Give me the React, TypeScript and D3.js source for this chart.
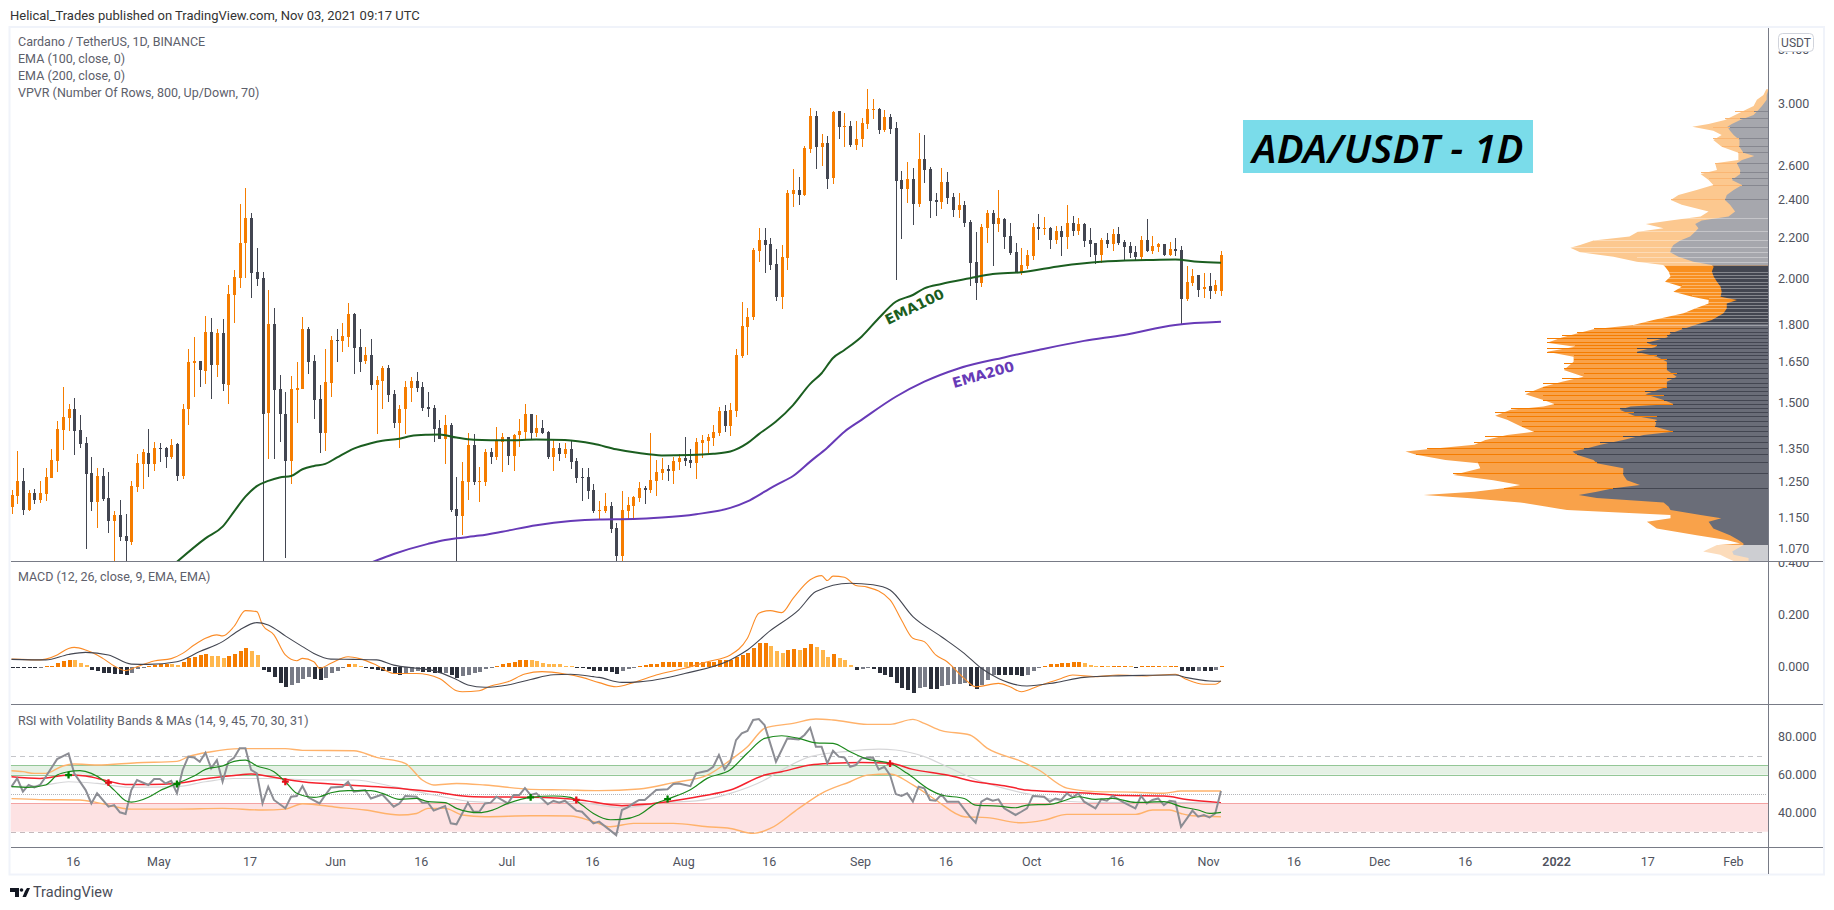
import React from "react"
import * as d3 from "d3"

type Bar = [number, number, number, number]
type Pt = [number, number]

const WIDTH = 1834
const HEIGHT = 910
const FONT = 'Roboto, sans-serif'

// daily candles, open/high/low/close, first one is Apr 5 2021
const barsApr: Bar[] = [
  [1.179,1.226,1.160,1.211],[1.210,1.342,1.188,1.251],[1.251,1.290,1.157,1.171],[1.170,1.226,1.167,1.217],[1.217,1.229,1.188,1.199],
  [1.198,1.251,1.190,1.217],[1.215,1.290,1.196,1.263],[1.261,1.348,1.261,1.314],[1.312,1.438,1.279,1.411],[1.408,1.556,1.345,1.452],
  [1.448,1.496,1.405,1.479],[1.479,1.516,1.329,1.406],[1.408,1.458,1.352,1.364],[1.367,1.386,1.070,1.273],[1.275,1.323,1.168,1.193],
  [1.193,1.289,1.123,1.266],[1.266,1.289,1.196,1.200],[1.203,1.277,1.110,1.142],[1.142,1.167,1.030,1.157],[1.157,1.198,1.090,1.100],
  [1.102,1.160,1.030,1.090],[1.088,1.251,1.078,1.237],[1.234,1.333,1.221,1.305],[1.303,1.348,1.229,1.339],[1.336,1.411,1.264,1.303],
  [1.303,1.370,1.282,1.351],
]
const barsMay: Bar[] = [
  [1.351,1.367,1.308,1.348],[1.351,1.354,1.291,1.324],[1.323,1.380,1.317,1.361],[1.364,1.367,1.252,1.267],[1.267,1.496,1.258,1.479],
  [1.477,1.699,1.426,1.648],[1.644,1.747,1.521,1.652],[1.652,1.652,1.557,1.618],[1.616,1.834,1.567,1.767],[1.767,1.825,1.514,1.638],
  [1.637,1.779,1.593,1.763],[1.763,1.821,1.543,1.568],[1.564,1.970,1.497,1.929],[1.925,2.040,1.806,2.007],[2.004,2.377,1.958,2.171],
  [2.173,2.466,2.004,2.301],[2.301,2.328,1.913,2.027],[2.030,2.146,1.967,1.999],[2.002,2.030,1.030,1.463],[1.466,1.947,1.318,1.800],
  [1.800,1.868,1.318,1.546],[1.549,1.600,1.371,1.460],[1.462,1.538,1.048,1.312],[1.312,1.596,1.244,1.549],[1.546,1.648,1.433,1.552],
  [1.549,1.830,1.549,1.779],[1.779,1.787,1.605,1.649],[1.652,1.676,1.446,1.511],[1.513,1.563,1.334,1.400],[1.400,1.699,1.343,1.574],
  [1.571,1.751,1.521,1.735],
]
const barsJun: Bar[] = [
  [1.735,1.779,1.649,1.731],[1.731,1.804,1.688,1.751],[1.748,1.890,1.708,1.842],[1.842,1.846,1.605,1.704],[1.707,1.779,1.609,1.649],
  [1.653,1.707,1.642,1.676],[1.676,1.739,1.546,1.564],[1.564,1.596,1.396,1.581],[1.579,1.633,1.480,1.626],[1.626,1.637,1.504,1.528],
  [1.531,1.545,1.416,1.433],[1.433,1.492,1.352,1.479],[1.477,1.577,1.396,1.556],[1.553,1.592,1.504,1.577],[1.577,1.611,1.539,1.553],
  [1.556,1.574,1.470,1.483],[1.486,1.538,1.453,1.480],[1.482,1.492,1.370,1.411],[1.415,1.442,1.380,1.380],[1.380,1.458,1.302,1.425],
  [1.425,1.431,1.165,1.170],[1.173,1.263,1.030,1.154],[1.154,1.308,1.104,1.251],[1.249,1.398,1.198,1.361],[1.361,1.395,1.240,1.248],
  [1.248,1.293,1.192,1.251],[1.248,1.348,1.237,1.339],[1.339,1.351,1.302,1.323],[1.323,1.418,1.314,1.373],[1.370,1.398,1.278,1.386],
]
const barsJul: Bar[] = [
  [1.386,1.386,1.299,1.326],[1.326,1.395,1.281,1.392],[1.392,1.445,1.354,1.405],[1.402,1.496,1.377,1.462],[1.462,1.462,1.377,1.398],
  [1.398,1.458,1.386,1.415],[1.415,1.442,1.395,1.398],[1.402,1.405,1.317,1.323],[1.323,1.376,1.281,1.351],[1.351,1.367,1.311,1.333],
  [1.333,1.367,1.320,1.348],[1.348,1.373,1.287,1.308],[1.311,1.320,1.246,1.260],[1.263,1.290,1.195,1.260],[1.263,1.290,1.200,1.223],
  [1.226,1.243,1.162,1.167],[1.167,1.195,1.143,1.170],[1.167,1.217,1.162,1.181],[1.181,1.192,1.109,1.120],[1.122,1.135,1.030,1.052],
  [1.052,1.223,1.030,1.170],[1.167,1.206,1.143,1.184],[1.181,1.209,1.143,1.206],[1.203,1.248,1.191,1.231],[1.231,1.237,1.187,1.226],
  [1.226,1.398,1.217,1.254],[1.251,1.314,1.209,1.278],[1.275,1.320,1.254,1.287],[1.287,1.299,1.251,1.281],[1.281,1.323,1.243,1.311],
  [1.308,1.333,1.284,1.320],
]
const barsAug: Bar[] = [
  [1.320,1.386,1.296,1.311],[1.314,1.348,1.290,1.305],[1.305,1.383,1.257,1.370],[1.367,1.392,1.320,1.376],[1.373,1.395,1.336,1.386],
  [1.382,1.425,1.357,1.402],[1.398,1.486,1.389,1.472],[1.472,1.492,1.402,1.422],[1.422,1.499,1.389,1.475],[1.472,1.699,1.452,1.676],
  [1.672,1.894,1.664,1.792],[1.787,1.868,1.676,1.830],[1.830,2.146,1.817,2.136],[2.132,2.247,2.078,2.187],[2.187,2.247,2.026,2.161],
  [2.166,2.197,2.040,2.063],[2.068,2.141,1.898,1.916],[1.916,2.161,1.864,2.102],[2.097,2.455,2.040,2.438],[2.432,2.577,2.361,2.455],
  [2.455,2.530,2.372,2.426],[2.426,2.717,2.421,2.705],[2.699,2.968,2.674,2.913],[2.913,2.947,2.577,2.711],[2.711,2.794,2.595,2.736],
  [2.736,2.781,2.461,2.518],[2.524,2.947,2.489,2.940],[2.947,2.947,2.762,2.840],[2.840,2.933,2.711,2.847],[2.847,2.880,2.711,2.724],
  [2.724,2.880,2.693,2.762],
]
const barsSep: Bar[] = [
  [2.762,2.900,2.711,2.867],[2.860,3.102,2.827,2.961],[2.954,3.031,2.893,2.961],[2.961,2.968,2.794,2.820],[2.820,2.954,2.807,2.906],
  [2.906,2.926,2.794,2.827],[2.833,2.873,1.993,2.506],[2.512,2.565,2.192,2.461],[2.461,2.619,2.382,2.518],[2.518,2.583,2.263,2.377],
  [2.377,2.801,2.361,2.638],[2.638,2.788,2.495,2.571],[2.577,2.589,2.301,2.393],[2.399,2.438,2.312,2.388],[2.388,2.583,2.350,2.501],
  [2.501,2.559,2.377,2.410],[2.415,2.438,2.306,2.344],[2.344,2.438,2.301,2.372],[2.372,2.393,2.253,2.274],[2.280,2.290,1.966,2.073],
  [2.078,2.227,1.903,1.979],[1.981,2.269,1.961,2.253],[2.247,2.344,2.171,2.328],[2.328,2.344,2.059,2.269],[2.269,2.455,2.227,2.301],
  [2.296,2.301,2.141,2.202],[2.207,2.274,2.112,2.122],[2.127,2.171,2.024,2.030],[2.030,2.146,2.016,2.063],[2.059,2.136,2.044,2.112],
]
const barsOct: Bar[] = [
  [2.107,2.274,2.087,2.253],[2.253,2.322,2.187,2.242],[2.242,2.306,2.212,2.247],[2.247,2.253,2.141,2.187],[2.187,2.258,2.166,2.232],
  [2.232,2.258,2.107,2.202],[2.202,2.372,2.141,2.274],[2.274,2.312,2.207,2.232],[2.232,2.301,2.212,2.269],[2.269,2.274,2.151,2.182],
  [2.187,2.247,2.102,2.166],[2.171,2.171,2.068,2.112],[2.112,2.197,2.073,2.187],[2.187,2.222,2.146,2.166],[2.166,2.242,2.132,2.217],
  [2.217,2.253,2.161,2.171],[2.177,2.187,2.082,2.151],[2.156,2.177,2.097,2.122],[2.127,2.156,2.082,2.102],[2.102,2.207,2.087,2.187],
  [2.187,2.296,2.127,2.132],[2.132,2.207,2.117,2.156],[2.151,2.171,2.127,2.166],[2.166,2.166,2.107,2.112],[2.112,2.177,2.107,2.141],
  [2.141,2.197,2.107,2.132],[2.136,2.156,1.796,1.907],[1.907,2.059,1.898,1.984],[1.979,2.044,1.966,2.012],[2.016,2.016,1.916,1.947],
  [1.952,2.026,1.911,1.961],
]
const barsNov: Bar[] = [
  [1.966,2.026,1.907,1.942],[1.942,1.993,1.929,1.970],[1.942,2.132,1.920,2.112],
]
const candles = [...barsApr, ...barsMay, ...barsJun, ...barsJul, ...barsAug, ...barsSep, ...barsOct, ...barsNov]

// [day index, price]
const ema100: Pt[] = [
  [29,1.038],[34,1.096],[37,1.126],[39,1.166],[41,1.207],[43,1.237],[45,1.252],[47,1.262],[49,1.266],[51,1.286],[53,1.296],[55,1.302],
  [57,1.321],[60,1.349],[63,1.366],[65,1.374],[68,1.380],[70,1.389],[73,1.393],[75,1.394],[78,1.384],[81,1.377],[87,1.375],[92,1.378],
  [97,1.376],[102,1.364],[106,1.347],[110,1.335],[114,1.328],[119,1.329],[123,1.333],[126,1.340],[129,1.366],[131,1.395],[134,1.436],
  [137,1.492],[140,1.567],[142,1.606],[144,1.664],[146,1.695],[149,1.748],[152,1.824],[155,1.895],[158,1.925],[160,1.955],[163,1.975],[168,2.001],
  [172,2.021],[177,2.029],[184,2.059],[191,2.079],[199,2.087],[204,2.090],[208,2.079],[212,2.074],
]
const ema200: Pt[] = [
  [63,1.036],[67,1.057],[73,1.082],[76,1.092],[78,1.096],[82,1.103],[86,1.113],[92,1.130],[98,1.141],[103,1.145],[109,1.146],[114,1.150],
  [120,1.159],[126,1.176],[129,1.194],[132,1.221],[134,1.240],[137,1.266],[140,1.309],[143,1.352],[146,1.403],[149,1.442],[155,1.521],
  [160,1.575],[166,1.624],[174,1.666],[180,1.695],[188,1.731],[195,1.755],[204,1.796],[212,1.809],
]

// volume profile rows: price, total volume, down volume (percent of the biggest row)
const vpRows: [number, number, number][] = [
  [3.100,0.6,0],[3.059,1.4,0.5],[3.024,3.2,0.5],[2.982,4.1,1.8],[2.954,6.4,2.8],[2.920,9.2,4.1],[2.887,12,7.8],[2.860,16.5,10.1],[2.842,21,11.3],
  [2.816,15.2,10.6],[2.788,12.9,9.6],[2.756,15.2,8],[2.713,12.9,8],[2.676,8.3,6.9],[2.655,8.3,3.9],[2.631,8.3,7.3],[2.611,14.7,8.7],[2.571,14.2,7.8],
  [2.547,18.7,7.8],[2.512,16.5,10.1],[2.483,15.2,7.3],[2.455,19.8,9.6],[2.426,24.8,11.5],[2.399,26.9,12],[2.372,23.9,10.6],[2.335,16.5,9.2],
  [2.308,18.7,11],[2.287,27,18.4],[2.269,33.8,20.2],[2.246,28.9,19.3],[2.229,36,20.2],[2.204,38.3,21.6],[2.184,48.2,24.3],[2.161,51.9,26.2],
  [2.148,54.6,26.7],[2.125,51.9,27.1],[2.103,42.7,24.8],[2.079,36.3,20.7],[2.063,29,15.6],[2.055,28.5,15.1],[2.032,27.5,15.6],[2.009,27,15.1],
  [1.985,28.5,14.2],[1.962,23.9,13.2],[1.939,26.2,12.9],[1.917,21,13.2],[1.903,16.5,8.7],[1.888,16.5,11.5],[1.866,20.2,11.5],[1.845,23.4,12.4],
  [1.817,31.7,15.6],[1.796,37.2,20.2],[1.778,48.2,23.7],[1.761,52.8,27],[1.745,56.9,28],[1.724,61,33.5],[1.708,53.3,30.8],[1.688,61,36.3],
  [1.669,53.7,30.8],[1.649,53.7,28],[1.618,56.4,28],[1.593,50.9,25.3],[1.575,56.9,28],[1.557,62,28],[1.530,67,33.9],[1.510,62,28.9],[1.496,59,26.2],
  [1.487,62,38],[1.476,71,41],[1.456,75.3,37],[1.442,72,30.8],[1.419,68,31.2],[1.403,64.7,26.2],[1.392,72,34.4],[1.376,78,40],[1.361,81,46.3],
  [1.347,94,50.9],[1.340,100,54],[1.330,97,52.8],[1.314,89,48.2],[1.304,80,47.3],[1.289,79.4,40],[1.269,86.8,40],[1.254,75.8,39],[1.240,68.4,35.4],
  [1.231,73,42.7],[1.221,81,47.3],[1.212,95,52.3],[1.203,83,47.3],[1.191,68.4,28.9],[1.179,61,27.5],[1.170,55.5,27],[1.157,27,18.7],[1.148,27,13],
  [1.139,33.5,16.5],[1.121,30.8,15.2],[1.104,19.8,10.6],[1.092,11.5,8.3],[1.083,7.8,6.9],[1.079,14.2,6.9],[1.063,18,10],[1.055,13.3,9.6],
  [1.047,11.5,5.5],[1.040,9.6,5.5],
]
const vpDarkStripes = [
  1.231,1.274,1.307,1.332,1.352,1.371,1.390,1.406,1.423,1.439,1.455,1.469,1.481,1.496,1.510,1.527,1.543,1.557,1.571,1.587,1.606,1.624,1.643,
  1.659,1.676,1.688,1.701,1.715,1.728,1.741,1.755,1.768,1.782,
]
const vpTopStripes = [2.403,2.483,2.522,2.561,2.611,2.68,2.72,2.77,2.84,2.90,2.95]
const vpLightStripes = [
  1.796,1.810,1.824,1.838,1.852,1.866,1.881,1.895,1.910,1.925,1.939,1.955,1.970,1.985,2.000,2.015,2.032,2.079,2.100,2.125,2.153,2.187,2.232,2.299,
]
const vpBands = [
  { name: "top", min: 2.06, max: 4, up: "#fcc88f", down: "#a6a7ad" },
  { name: "dense", min: 1.8, max: 2.06, up: "#f98f1e", down: "#434651" },
  { name: "value", min: 1.079, max: 1.8, up: "#f9a24a", down: "#6a6d78" },
  { name: "low", min: 1, max: 1.079, up: "#fcdcbb", down: "#cdced2" },
]

// MACD histogram, one value per day
const macdHist = [
  -.005,-.005,-.005,-.005,-.005,-.004,.001,.004,.013,.020,.026,.025,.015,.006,-.012,-.015,-.023,-.026,-.028,-.029,-.033,-.023,-.010,-.004,.003,.006,.010,.011,.010,.006,
  .019,.032,.038,.045,.049,.042,.041,.032,.041,.049,.060,.072,.061,.046,-.013,-.020,-.041,-.064,-.078,-.072,-.064,-.047,-.041,-.047,-.051,-.045,-.026,-.017,-.005,.010,
  .009,.004,-.003,-.010,-.013,-.015,-.017,-.026,-.032,-.023,-.019,-.017,-.019,-.022,-.023,-.026,-.023,-.032,-.045,-.036,-.032,-.023,-.019,-.010,-.005,.004,.009,.013,.018,.024,
  .027,.024,.022,.015,.012,.010,.009,.004,.001,-.006,-.006,-.010,-.015,-.017,-.017,-.022,-.027,-.015,-.009,-.005,.003,.006,.009,.012,.017,.0172,.0174,.018,.017,.017,
  .017,.018,.018,.019,.026,.026,.0262,.038,.045,.054,.070,.090,.092,.079,.060,.051,.064,.067,.064,.070,.087,.077,.064,.038,.047,.035,.026,.006,-.012,-.008,
  -.004,-.010,-.026,-.032,-.038,-.064,-.083,-.090,-.100,-.083,-.079,-.086,-.086,-.073,-.070,-.068,-.067,-.064,-.074,-.087,-.070,-.051,-.032,-.032,-.032,-.033,-.033,-.035,-.032,-.015,
  -.004,.003,.009,.010,.013,.015,.017,.017,.013,.006,.004,.004,.003,.004,.004,.004,.001,-.005,.001,.001,.001,.004,.001,.001,.001,-.015,-.017,-.018,-.017,-.017,
  -.017,-.013,.001,
]
const macdLine: Pt[] = [
  [0,.029],[5,.026],[6,.029],[8,.045],[10,.070],[11,.074],[13,.064],[15,.045],[16,.032],[18,.003],[20,-.015],[22,0],[25,.022],[28,.031],[30,.051],[32,.083],[34,.109],[36,.122],[37,.118],
  [39,.154],[41,.215],[43,.211],[44,.160],[46,.122],[48,.045],[50,.023],[51,.032],[53,.019],[54,-.006],[56,.013],[59,.038],[61,.031],[64,.006],[67,-.026],[71,-.026],[75,-.045],[78,-.092],
  [79,-.096],[82,-.092],[84,-.074],[87,-.058],[90,-.028],[93,-.019],[97,-.028],[100,-.041],[103,-.061],[106,-.077],[109,-.061],[113,-.032],[118,-.006],[122,.019],[126,.045],[129,.109],
  [131,.205],[133,.215],[135,.207],[137,.262],[140,.333],[142,.349],[143,.330],[144,.347],[146,.343],[148,.311],[150,.305],[154,.256],[156,.179],[158,.109],[160,.096],[162,.045],[164,.019],
  [167,-.045],[169,-.077],[173,-.064],[175,-.077],[177,-.096],[180,-.074],[184,-.045],[186,-.032],[190,-.038],[194,-.032],[199,-.035],[204,-.029],[206,-.049],[209,-.067],[211,-.067],[212,-.054],
]
const macdSignal: Pt[] = [
  [0,.028],[6,.026],[10,.047],[13,.055],[17,.045],[21,.010],[24,.009],[29,.019],[33,.058],[37,.096],[40,.141],[43,.169],[45,.160],[48,.118],[51,.077],[53,.051],[56,.029],[60,.028],[64,.026],
  [67,.006],[71,-.006],[74,-.015],[78,-.049],[80,-.070],[83,-.079],[87,-.070],[91,-.049],[95,-.031],[98,-.029],[102,-.038],[103,-.041],[107,-.060],[110,-.058],[118,-.026],[126,.026],[129,.064],
  [133,.138],[138,.218],[141,.288],[147,.320],[151,.314],[154,.294],[158,.192],[163,.115],[167,.051],[170,-.006],[173,-.045],[178,-.074],[183,-.061],[188,-.041],[194,-.035],[199,-.033],
  [204,-.032],[206,-.042],[210,-.055],[212,-.056],
]

const rsiLine: Pt[] = [
  [0,53.7],[1,58.1],[2,51.1],[3,54.6],[4,53.3],[5,54.6],[6,58.9],[8,68.2],[10,71.2],[11,60.7],[13,51.9],[14,44.9],[15,50.2],[17,43.2],[18,44],[19,40.2],[20,39.3],[21,51.9],[22,57.2],[24,54.6],
  [25,57.7],[26,57.7],[27,55.4],[28,56.8],[29,50.2],[30,62.5],[31,69.5],[32,69.1],[33,66.8],[34,71.6],[35,63.3],[36,67.7],[37,56.3],[38,66.8],[39,68.9],[40,73.9],[41,73.9],[42,62.5],[43,60.7],
  [44,44.9],[45,53.7],[46,46.7],[48,42.3],[49,48.4],[50,48.8],[51,54],[52,48.1],[54,44.9],[55,49.3],[56,53.3],[58,53.7],[59,56.3],[60,51.1],[62,51.9],[63,47.5],[65,49.6],[67,43.2],[68,44.9],
  [69,48.8],[71,48.4],[72,45.3],[73,45.3],[74,41.1],[76,43.5],[77,34.4],[78,33.9],[80,45.3],[81,40.5],[82,40.5],[83,44.9],[84,45.3],[85,48.4],[87,44.9],[88,49.3],[89,49.3],[90,53],[91,49.3],
  [92,50.2],[94,44.4],[95,46.3],[96,45.3],[97,46.3],[99,41.1],[100,40.5],[102,34.4],[103,35.3],[106,28.2],[107,41.4],[108,42.8],[109,44.9],[110,46.7],[111,46.7],[112,49.3],[113,51.9],[115,52.3],
  [116,55.1],[117,55.4],[119,54],[120,60.7],[122,62.1],[123,64.2],[124,70.4],[125,62.8],[126,66.8],[127,78.2],[128,81.8],[129,83],[130,88.8],[131,89.3],[132,86.1],[134,66.8],[136,79.1],[138,78.6],
  [139,80.9],[140,84.7],[141,74.7],[142,74.7],[143,66],[144,72.6],[145,69.5],[146,69.1],[147,64.2],[148,65.1],[149,68.6],[151,69.1],[152,62.8],[153,64.2],[154,59.8],[155,49.8],[156,48.8],[157,50.2],
  [158,45.8],[159,53.7],[160,52.8],[161,46.7],[162,46.3],[163,49.6],[164,45.8],[166,45.8],[168,37.9],[169,34.7],[170,45.8],[171,47.5],[172,46.3],[173,47],[174,42.3],[176,38.8],[177,40.5],[178,42.3],
  [179,48.8],[181,48.4],[182,45.8],[183,47.5],[184,46.7],[185,50.2],[186,48.1],[187,50.2],[188,45.8],[190,42.3],[191,47],[192,46.3],[193,48.8],[195,45.3],[197,42.3],[198,48.8],[199,44.9],[200,46.7],
  [201,47.5],[202,44],[203,46.3],[204,45.8],[205,32.6],[207,41.1],[208,37.9],[209,38.8],[210,37.5],[211,39.6],[212,51.4],
]
const rsiFast: Pt[] = [
  [0,53.7],[3,53.3],[6,54.6],[8,59.8],[10,61.6],[12,62.1],[14,60.7],[16,57.2],[18,51.9],[20,46.3],[21,45.6],[24,48.1],[26,51.6],[29,55.4],[32,59.3],[34,62.8],[37,64.6],[39,67],[41,67.7],[43,64.6],
  [46,61.6],[48,56.3],[50,50.2],[53,48.1],[54,48.4],[56,50.5],[59,51.6],[63,51.6],[65,50.2],[68,47],[71,47.5],[73,45.8],[76,45.3],[78,42.3],[82,40],[84,41.1],[87,44.9],[91,48.1],[95,48.8],[98,48.1],
  [100,44],[102,39.6],[105,36.3],[107,36.5],[110,38.8],[113,44.9],[115,47.2],[119,52.1],[122,58.2],[126,62.6],[129,71.4],[132,79.1],[135,80.5],[138,79.1],[141,76.8],[144,76.5],[147,72.1],[150,68.2],
  [154,66],[157,60.7],[161,52],[163,49.3],[167,47.5],[169,44],[173,43.5],[176,42.6],[178,44],[182,44.4],[184,45.8],[187,48.4],[190,47],[193,47.5],[197,45.4],[202,45.8],[205,43.2],[208,41.4],[210,39.6],[212,40.2],
]
const rsiSlow: Pt[] = [
  [0,58.9],[5,58],[10,59.8],[13,59.3],[17,56.6],[20,54.9],[24,54.9],[29,55.4],[34,57.9],[39,59.6],[42,60.4],[46,58.6],[51,56.3],[59,54.6],[66,53.3],[74,51],[81,48.4],[91,48.1],[99,47],[107,43.7],[111,44.4],
  [115,45.8],[121,48.8],[126,51.9],[132,59.8],[135,61.6],[140,65.1],[144,66],[149,66.4],[154,66],[158,62.8],[164,59.8],[169,56.3],[174,54.2],[178,51.9],[184,50.9],[189,50.2],[195,49],[202,48.8],[206,47],[212,45.3],
]
const rsiBasis: Pt[] = [
  [0,53.7],[6,54.6],[10,56.3],[15,55.4],[21,53.3],[29,53.7],[34,56.3],[39,58],[46,58],[53,57.2],[60,57.2],[67,53.7],[74,49.3],[81,45.8],[91,44.9],[98,45.8],[103,44],[107,42.6],[114,45.3],[120,46.2],[126,50.2],
  [132,57.2],[135,62.5],[140,69.5],[146,72.1],[152,73.5],[155,73],[160,69.5],[164,64.2],[169,57.5],[174,52.8],[179,49.3],[184,46.3],[191,45.4],[199,45.3],[206,45.3],[212,44.9],
]
const rsiUpper: Pt[] = [
  [0,62.1],[2,61.6],[4,60.7],[6,60.7],[9,64.6],[11,65.6],[15,65.1],[22,66.3],[29,67],[31,69.5],[35,72.1],[40,73.7],[48,73.7],[51,72.8],[60,72.6],[64,69.1],[69,66],[72,57.2],[74,54.6],[78,55.4],[83,54.6],[91,52.3],
  [97,52],[103,51.6],[110,52.5],[116,55.8],[122,59.8],[126,67.7],[129,74.7],[132,84.4],[134,85.8],[137,87],[141,89.3],[144,88.8],[150,86.5],[154,86.5],[158,89.1],[160,87],[163,83.2],[168,80.9],[171,74],[177,67],
  [180,62.6],[185,52.9],[190,51.1],[197,50.8],[202,50.2],[205,51.4],[212,51.4],
]
const rsiLower: Pt[] = [
  [0,47.4],[5,46.9],[12,46.7],[15,45.3],[21,41.9],[29,41.9],[37,42.3],[44,41.4],[48,41.9],[51,44.7],[57,42.9],[62,41.4],[68,38.8],[71,39.6],[73,42.3],[76,42.3],[79,38.8],[83,37.9],[91,38.4],[98,38.3],[102,35.3],
  [105,32.6],[109,34.4],[116,34.4],[122,32.6],[126,31.7],[130,29.1],[133,31.7],[138,42.3],[142,50.2],[147,56.3],[150,59.8],[154,60.4],[158,54.6],[162,46.7],[167,37.9],[171,37.4],[177,34.7],[181,36.1],[185,39.1],
  [191,39.1],[197,39.1],[200,41.4],[203,41.4],[205,39.6],[207,38.4],[212,37.9],
]
const crossUp: Pt[] = [[10,59.8],[29,55.1],[91,48.1],[115,47.2]]
const crossDown: Pt[] = [[17,55.8],[48,56.3],[99,46.7],[154,65.8]]

const priceTicks = [3.4, 3, 2.6, 2.4, 2.2, 2, 1.8, 1.65, 1.5, 1.35, 1.25, 1.15, 1.07]
const macdTicks = [0.4, 0.2, 0]
const rsiTicks = [80, 60, 40]
const timeTicks: [string, string][] = [
  ["2021-04-16", "16"], ["2021-05-01", "May"], ["2021-05-17", "17"], ["2021-06-01", "Jun"], ["2021-06-16", "16"], ["2021-07-01", "Jul"], ["2021-07-16", "16"],
  ["2021-08-01", "Aug"], ["2021-08-16", "16"], ["2021-09-01", "Sep"], ["2021-09-16", "16"], ["2021-10-01", "Oct"], ["2021-10-16", "16"], ["2021-11-01", "Nov"],
  ["2021-11-16", "16"], ["2021-12-01", "Dec"], ["2021-12-16", "16"], ["2022-01-01", "2022"], ["2022-01-17", "17"], ["2022-02-01", "Feb"],
]
const mainLegend = ["Cardano / TetherUS, 1D, BINANCE", "EMA (100, close, 0)", "EMA (200, close, 0)", "VPVR (Number Of Rows, 800, Up/Down, 70)"]

const UP = "#f57c00"
const DOWN = "#434651"
const AXIS = "#787b86"
const LABEL = "#50535e"
const LEFT = 10.5
const AXIS_X = 1768.5
const RIGHT = 1823

const startDate = new Date(Date.UTC(2021, 3, 5))
const xTime = d3.scaleUtc().domain([startDate, new Date(Date.UTC(2022, 1, 1))]).range([11.5, 1734.4])
const xDay = (i: number) => xTime(d3.utcDay.offset(startDate, i))

const yPrice = d3.scaleLog().domain([3.563, 1.04]).range([29, 561])
const yMacd = d3.scaleLinear().domain([0.2, 0]).range([614.5, 666.7])
const yRsi = d3.scaleLinear().domain([80, 40]).range([736.7, 812.7])
const xVol = d3.scaleLinear().domain([0, 100]).range([AXIS_X, AXIS_X - 363])

function pathOf(points: Pt[], y: (v: number) => number) {
  return d3.line<Pt>().x(d => xDay(d[0])).y(d => y(d[1])).curve(d3.curveMonotoneX)(points) ?? ""
}
function zigzag(points: Pt[], y: (v: number) => number) {
  return d3.line<Pt>().x(d => xDay(d[0])).y(d => y(d[1]))(points) ?? ""
}

const vpTotalArea = d3.area<[number, number, number]>().y(d => yPrice(d[0])).x0(xVol(0)).x1(d => xVol(d[1]))
const vpDownArea = d3.area<[number, number, number]>().y(d => yPrice(d[0])).x0(xVol(0)).x1(d => xVol(d[2]))
const vpRowAt = (p: number) => {
  const k = d3.bisector((d: [number, number, number]) => -d[0]).left(vpRows, -p)
  return vpRows[Math.min(k, vpRows.length - 1)]
}

function Volume() {
  const stripes = (prices: number[], downColor: string, upColor: string) => prices.map(p => {
    const r = vpRowAt(p)
    const y = Math.round(yPrice(p)) + 0.5
    return (
      <g key={p}>
        <line x1={xVol(0)} x2={xVol(r[2])} y1={y} y2={y} stroke={downColor} />
        <line x1={xVol(r[2])} x2={xVol(r[1])} y1={y} y2={y} stroke={upColor} />
      </g>
    )
  })
  return (
    <g>
      <defs>
        {vpBands.map(b => (
          <clipPath id={`vp-${b.name}`} key={b.name}>
            <rect x={1300} width={AXIS_X - 1300} y={Math.max(29, yPrice(b.max))} height={Math.min(561, yPrice(b.min)) - Math.max(29, yPrice(b.max))} />
          </clipPath>
        ))}
      </defs>
      {vpBands.map(b => (
        <g key={b.name} clipPath={`url(#vp-${b.name})`}>
          <path d={vpTotalArea(vpRows) ?? ""} fill={b.up} />
          <path d={vpDownArea(vpRows) ?? ""} fill={b.down} />
        </g>
      ))}
      <g shapeRendering="crispEdges">
        {stripes(vpDarkStripes, DOWN, UP)}
        {stripes(vpTopStripes, "#86878f", "#fab673")}
        {vpLightStripes.map(p => {
          const r = vpRowAt(p)
          const y = Math.round(yPrice(p)) + 0.5
          return <line key={p} x1={xVol(0)} x2={xVol(r[1])} y1={y} y2={y} stroke="#fff" strokeOpacity={0.35} />
        })}
      </g>
    </g>
  )
}

function Candles() {
  return (
    <g shapeRendering="crispEdges">
      {candles.map((c, i) => {
        const [o, h, l, cl] = c
        const color = cl >= o ? UP : DOWN
        const x = Math.round(xDay(i))
        const top = yPrice(Math.max(o, cl))
        const bottom = yPrice(Math.min(o, cl))
        return (
          <g key={i}>
            <line x1={x + 0.5} x2={x + 0.5} y1={yPrice(h)} y2={yPrice(l)} stroke={color} />
            <rect x={x - 1} width={3} y={top} height={Math.max(1, bottom - top)} fill={color} />
          </g>
        )
      })}
    </g>
  )
}

function histColor(i: number) {
  const v = macdHist[i]
  const prev = i > 0 ? macdHist[i - 1] : v
  if (v >= 0) return v >= prev ? UP : "#ffb74d"
  return v <= prev ? "#2a2e39" : AXIS
}

function Macd() {
  return (
    <g>
      <g shapeRendering="crispEdges">
        {macdHist.map((v, i) => (
          <rect key={i} x={Math.round(xDay(i)) - 1.5} width={4} y={Math.min(yMacd(v), yMacd(0))} height={Math.max(1, Math.abs(yMacd(v) - yMacd(0)))} fill={histColor(i)} />
        ))}
      </g>
      <path d={pathOf(macdLine, yMacd)} fill="none" stroke="#fb8c28" strokeWidth={1.1} />
      <path d={pathOf(macdSignal, yMacd)} fill="none" stroke={DOWN} strokeWidth={1.1} />
    </g>
  )
}

function Rsi() {
  const band = (hi: number, lo: number, fill: string) => (
    <rect x={LEFT} width={AXIS_X - LEFT} y={yRsi(hi)} height={yRsi(lo) - yRsi(hi)} fill={fill} />
  )
  const rule = (v: number, stroke: string, dash?: string, x2 = AXIS_X) => (
    <line x1={LEFT} x2={x2} y1={Math.round(yRsi(v)) + 0.5} y2={Math.round(yRsi(v)) + 0.5} stroke={stroke} strokeDasharray={dash} shapeRendering="crispEdges" />
  )
  const cross = d3.symbol(d3.symbolCross, 26)()
  return (
    <g>
      {band(65, 60, "#e5f1e5")}
      {band(45, 30, "#fde2e3")}
      {rule(70, "#c4c5c9", "5 4", AXIS_X - 4)}
      {rule(65, "#93c796")}
      {rule(60, "#93c796")}
      {rule(50, "#b4b5b9", "1 1", AXIS_X - 2)}
      {rule(45, "#f4a3a3")}
      {rule(30, "#c4b9bc", "5 4", AXIS_X - 4)}
      <path d={pathOf(rsiBasis, yRsi)} fill="none" stroke="#d6d6d8" strokeWidth={1.2} />
      <path d={pathOf(rsiUpper, yRsi)} fill="none" stroke="#ffb26b" strokeWidth={1.4} />
      <path d={pathOf(rsiLower, yRsi)} fill="none" stroke="#ffb26b" strokeWidth={1.4} />
      <path d={pathOf(rsiSlow, yRsi)} fill="none" stroke="#f5222d" strokeWidth={1.5} />
      <path d={zigzag(rsiLine, yRsi)} fill="none" stroke="#8c8d94" strokeWidth={2} />
      <path d={pathOf(rsiFast, yRsi)} fill="none" stroke="#1d8a1d" strokeWidth={1.2} />
      {crossUp.map(d => <path key={d[0]} d={cross ?? ""} transform={`translate(${xDay(d[0])},${yRsi(d[1])})`} fill="#008000" />)}
      {crossDown.map(d => <path key={d[0]} d={cross ?? ""} transform={`translate(${xDay(d[0])},${yRsi(d[1])})`} fill="#e5101a" />)}
    </g>
  )
}

export default function App() {
  const axisText = { fontSize: 12.5, fill: LABEL, dominantBaseline: "central" as const }
  return (
    <svg width={WIDTH} height={HEIGHT} fontFamily={FONT} style={{ position: "absolute", left: 0, top: 0, display: "block", background: "#fff" }}>
      <defs>
        <clipPath id="main"><rect x={LEFT} y={29} width={AXIS_X - LEFT} height={532} /></clipPath>
        <clipPath id="macd"><rect x={LEFT} y={562} width={AXIS_X - LEFT} height={142} /></clipPath>
        <clipPath id="rsi"><rect x={LEFT} y={705} width={AXIS_X - LEFT} height={142} /></clipPath>
        <clipPath id="macdAxis"><rect x={AXIS_X} y={562} width={60} height={142} /></clipPath>
      </defs>

      <text x={10} y={15} fontSize={13} fill="#333" dominantBaseline="central">Helical_Trades published on TradingView.com, Nov 03, 2021 09:17 UTC</text>
      <rect x={9.5} y={27} width={1814.5} height={847.5} fill="none" stroke="#f0f3fa" strokeWidth={2} />

      <g clipPath="url(#main)">
        <Volume />
        <Candles />
        <path d={pathOf(ema100, yPrice)} fill="none" stroke="#1b5e20" strokeWidth={2} />
        <path d={pathOf(ema200, yPrice)} fill="none" stroke="#673ab7" strokeWidth={2} />
      </g>
      <text transform="translate(888,325) rotate(-25.8)" fontSize={14} fontWeight={600} fill="#1b5e20" fontFamily='"DejaVu Sans", sans-serif'>EMA100</text>
      <text transform="translate(954,388) rotate(-16)" fontSize={14} fontWeight={600} fill="#673ab7" fontFamily='"DejaVu Sans", sans-serif'>EMA200</text>

      <rect x={1243} y={120} width={290} height={53} fill="#7adcea" />
      <text x={1388} y={147} fontSize={40} fontStyle="italic" fontWeight={600} fill="#000" textAnchor="middle" dominantBaseline="central" fontFamily='"Noto Sans", sans-serif' letterSpacing={0.3}>ADA/USDT - 1D</text>

      <g clipPath="url(#macd)"><Macd /></g>
      <g clipPath="url(#rsi)"><Rsi /></g>

      {mainLegend.map((t, i) => (
        <text key={t} x={18} y={41.7 + i * 17} fontSize={12.5} fill="#5d606b" dominantBaseline="central">{t}</text>
      ))}
      <text x={18} y={576.7} fontSize={12.5} fill="#5d606b" dominantBaseline="central">MACD (12, 26, close, 9, EMA, EMA)</text>
      <text x={18} y={720} fontSize={12.5} fill="#5d606b" dominantBaseline="central">RSI with Volatility Bands &amp; MAs (14, 9, 45, 70, 30, 31)</text>

      <g stroke={AXIS} shapeRendering="crispEdges">
        <line x1={LEFT} x2={RIGHT} y1={561.5} y2={561.5} />
        <line x1={LEFT} x2={RIGHT} y1={704.5} y2={704.5} />
        <line x1={LEFT} x2={RIGHT} y1={847.5} y2={847.5} />
        <line x1={AXIS_X} x2={AXIS_X} y1={28} y2={874} />
      </g>

      {priceTicks.map(p => (
        <text key={p} x={1778} y={yPrice(p)} {...axisText}>{p.toFixed(3)}</text>
      ))}
      <rect x={1778.5} y={33.5} width={35} height={18} rx={4} fill="#fff" stroke="#d1d4dc" />
      <text x={1796} y={42.5} fontSize={12} fill={LABEL} textAnchor="middle" dominantBaseline="central">USDT</text>

      <g clipPath="url(#macdAxis)">
        {macdTicks.map(v => <text key={v} x={1778} y={yMacd(v)} {...axisText}>{v.toFixed(3)}</text>)}
      </g>
      {rsiTicks.map(v => <text key={v} x={1778} y={yRsi(v)} {...axisText}>{v.toFixed(3)}</text>)}

      {timeTicks.map(([d, label]) => (
        <text key={d} x={xTime(new Date(d + "T00:00:00Z")) - 1} y={861} textAnchor="middle" {...axisText} fontWeight={label === "2022" ? 600 : 400}>{label}</text>
      ))}

      <path d="M10 888h9v9h-4v-5h-5zM27 888h3l-4 9h-3.500l2.500-6z" fill="#131722" />
      <circle cx={21.5} cy={890} r={1.8} fill="#131722" />
      <text x={33} y={892} fontSize={14.5} fill="#4a4d57" dominantBaseline="central">TradingView</text>
    </svg>
  )
}
